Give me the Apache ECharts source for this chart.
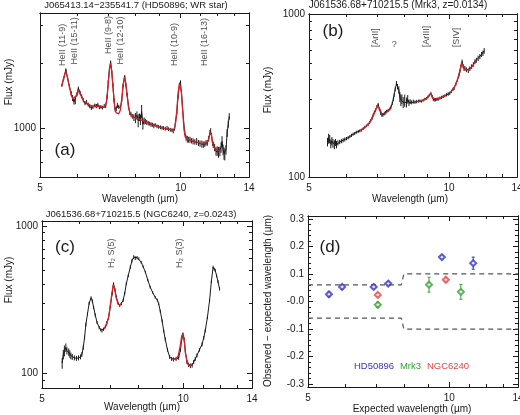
<!DOCTYPE html>
<html>
<head>
<meta charset="utf-8">
<script src="https://cdn.jsdelivr.net/npm/echarts@6/dist/echarts.min.js"></script>
<style>
  html, body { margin: 0; padding: 0; background: #fff; }
  #chart { width: 520px; height: 415px; }
</style>
</head>
<body>
<div id="chart"></div>
<script>
// (a) HD50896, WR star
var waveA = [5.57,5.62,5.68,5.73,5.78,5.83,5.87,5.91,5.95,6.00,6.04,6.09,6.14,6.19,6.24,6.29,6.34,6.39,6.44,6.49,
  6.55,6.60,6.65,6.70,6.75,6.80,6.86,6.91,6.96,7.00,7.04,7.08,7.12,7.16,7.20,7.24,7.28,7.32,7.37,7.43,
  7.48,7.53,7.59,7.63,7.68,7.73,7.78,7.83,7.88,7.94,8.00,8.06,8.11,8.16,8.20,8.25,8.30,8.35,8.40,8.46,
  8.52,8.58,8.64,8.70,8.76,8.82,8.90,8.97,9.05,9.12,9.19,9.27,9.35,9.42,9.50,9.58,9.64,9.70,9.75,9.81,
  9.87,9.94,9.99,10.04,10.09,10.14,10.20,10.27,10.33,10.40,10.47,10.55,10.63,10.72,10.82,10.92,11.00,11.10,11.18,11.26,
  11.33,11.40,11.48,11.55,11.59,11.64,11.70,11.74,11.82,11.90,11.97,12.05,12.13,12.20,12.26,12.32,12.38,12.43,12.50,12.57,
  12.64,12.70];
var fluxA = [1580,1700,1865,1700,1560,1450,1383,1330,1340,1440,1537,1470,1406,1350,1310,1330,1290,1270,1245,1260,
  1280,1270,1290,1255,1260,1250,1275,1266,1400,1648,1880,2029,1830,1591,1350,1222,1230,1280,1260,1245,
  1350,1580,1738,1600,1432,1280,1180,1159,1140,1125,1120,1150,1090,1130,1100,1200,1050,1085,1080,1070,
  1060,1055,1045,1043,1030,1040,1025,1020,1015,1010,1007,1000,1010,995,989,985,972,1000,1080,1180,
  1400,1600,1643,1450,1250,1100,960,906,895,890,890,880,875,870,874,860,855,850,845,850,
  860,860,900,960,980,930,860,845,820,787,790,780,787,820,874,800,770,760,800,956,
  1050,1139];
var errA = [25,25,28,25,30,40,45,40,45,28,25,25,28,30,28,25,28,30,25,28,
  25,28,25,25,25,25,25,22,25,28,28,28,28,25,25,25,25,35,28,25,
  25,28,28,25,25,25,25,30,28,40,60,50,75,45,60,85,60,40,30,28,
  25,22,25,22,25,20,20,20,20,20,20,20,20,20,20,20,20,20,22,22,
  25,25,25,25,22,22,25,25,32,28,28,25,28,25,32,28,28,32,28,25,
  25,25,25,25,25,25,25,28,32,35,40,45,40,45,50,45,50,45,40,40,
  40,40];
var fitWaveA = [5.57,5.62,5.67,5.72,5.78,5.83,5.88,5.93,5.98,6.03,6.08,6.14,6.20,6.30,6.40,6.50,6.60,6.70,6.80,6.88,
  6.94,7.00,7.04,7.08,7.12,7.17,7.22,7.27,7.32,7.37,7.43,7.48,7.53,7.58,7.63,7.68,7.74,7.80,7.90,8.00,
  8.20,8.40,8.60,8.80,9.00,9.20,9.40,9.60,9.70,9.76,9.82,9.88,9.94,9.99,10.04,10.10,10.16,10.22,10.30,10.50,
  10.80,11.10,11.35,11.45,11.52,11.58,11.64,11.70,11.78,11.90,12.00,12.13];
var fitFluxA = [1580,1720,1830,1730,1560,1440,1370,1360,1420,1500,1470,1400,1340,1310,1280,1265,1265,1260,1255,1260,
  1330,1620,1880,2000,1830,1520,1270,1185,1165,1170,1220,1370,1590,1730,1620,1420,1240,1170,1140,1120,
  1100,1075,1055,1035,1018,1005,995,985,1000,1080,1250,1480,1610,1610,1460,1200,1000,920,900,885,
  870,855,860,880,930,970,930,860,820,800,790,790];
var tagTextA = ['HeII (11-9)','HeII (15-11)','HeII (9-8)','HeII (12-10)','HeII (10-9)','HeII (16-13)'];
var tagWaveA = [5.59,5.94,7.04,7.47,9.72,11.3];
var tagFluxA = [1930,1960,2190,1960,1930,1930];

// (b) Mrk3
var waveB = [5.48,5.51,5.54,5.57,5.60,5.63,5.67,5.70,5.73,5.77,5.82,5.87,5.92,5.97,6.02,6.07,6.12,6.17,6.22,6.27,
  6.32,6.38,6.43,6.48,6.54,6.59,6.64,6.70,6.75,6.79,6.83,6.87,6.91,6.95,7.00,7.04,7.08,7.13,7.17,7.21,
  7.26,7.30,7.34,7.40,7.46,7.50,7.55,7.59,7.62,7.66,7.71,7.75,7.80,7.84,7.88,7.92,7.97,8.03,8.10,8.15,
  8.20,8.25,8.31,8.38,8.45,8.52,8.60,8.66,8.73,8.80,8.87,8.95,9.01,9.07,9.14,9.20,9.25,9.29,9.36,9.42,
  9.48,9.56,9.64,9.72,9.80,9.88,9.96,10.04,10.12,10.20,10.26,10.34,10.43,10.50,10.55,10.60,10.67,10.72,10.77,10.82,
  10.90,11.00,11.08,11.18,11.28,11.37,11.45,11.55,11.65,11.75,11.83,11.90];
var fluxB = [164,172,171,160,166,161,158,163,158,162,164,166,168,170,172,174,177,180,183,185,
  188,190,192,194,198,202,206,210,216,222,229,240,250,257,270,279,262,246,240,240,
  245,248,252,256,261,268,283,300,318,345,376,358,342,310,297,300,287,295,287,300,
  285,290,287,290,288,290,292,293,292,296,300,304,310,318,326,312,300,297,298,300,
  301,305,308,312,315,320,323,326,335,345,350,370,394,420,443,475,511,480,462,465,
  455,448,462,476,490,511,520,535,548,565,575,594];
var errB = [10,12,10,10,10,10,10,8,8,6,5,5,5,5,4,4,4,4,4,4,
  4,4,4,4,4,4,4,5,5,5,5,5,5,6,6,6,6,6,6,6,
  6,6,6,6,6,6,7,8,8,10,12,14,18,22,25,20,22,25,20,18,
  12,10,8,8,7,7,6,6,6,6,6,6,6,6,7,7,7,7,7,7,
  7,7,7,7,7,8,8,8,8,8,8,9,9,10,10,12,14,14,15,15,
  15,14,15,15,16,16,18,20,20,20,22,24];
var fitWaveB = [
  [6.43,6.55,6.65,6.75,6.85,6.95,7.01,7.05,7.10,7.16,7.22,7.30,7.40,7.50],
  [8.52,8.65,8.80,8.95,9.05,9.12,9.17,9.24,9.32,9.45,9.60,9.75,9.85],
  [10.10,10.20,10.30,10.40,10.50,10.58,10.64,10.69,10.75,10.82,10.92,11.05,11.20,11.35,11.45]];
var fitFluxB = [
  [192,198,206,216,232,255,275,278,262,245,240,246,255,264],
  [290,292,296,303,314,325,322,305,298,300,306,313,318],
  [333,345,362,388,425,465,500,505,470,455,452,455,475,500,515]];
var tagTextB = ['[ArII]','[ArIII]','[SIV]'];
var tagWaveB = [6.96,8.95,10.38];
var tagFluxB = [620,620,620];

// (c) NGC6240
var waveC = [5.52,5.55,5.58,5.62,5.65,5.70,5.73,5.76,5.80,5.86,5.92,5.98,6.04,6.08,6.12,6.16,6.20,6.25,6.30,6.36,
  6.40,6.44,6.49,6.55,6.62,6.67,6.71,6.76,6.82,6.87,6.93,6.99,7.05,7.10,7.15,7.20,7.26,7.32,7.38,7.44,
  7.50,7.56,7.63,7.71,7.77,7.84,7.90,7.97,8.04,8.13,8.21,8.30,8.40,8.50,8.60,8.71,8.80,8.86,8.93,9.01,
  9.08,9.15,9.25,9.35,9.44,9.53,9.65,9.77,9.86,9.93,9.98,10.04,10.10,10.18,10.26,10.35,10.44,10.52,10.60,10.69,
  10.82,10.96,11.05,11.13,11.25,11.37,11.47,11.57,11.63,11.69,11.77,11.85,11.94];
var fluxC = [118,135,143,150,143,140,136,132,130,128,127,128,130,135,150,176,215,254,300,326,
  310,281,250,222,205,198,195,200,208,222,240,285,347,406,370,329,300,289,298,312,
  350,406,460,526,580,615,605,610,600,569,530,487,430,385,355,329,315,297,265,228,
  195,171,145,130,126,125,126,128,145,175,185,170,140,120,115,113,114,120,126,133,
  145,158,175,195,240,312,420,526,510,500,460,420,375];
var errC = [10,10,12,10,8,8,8,7,6,5,5,5,5,5,5,5,6,6,7,8,
  8,7,6,5,5,5,5,5,5,5,6,7,8,9,8,8,7,7,7,7,
  8,9,10,14,16,18,18,16,14,12,10,9,8,8,7,7,7,6,6,5,
  5,5,4,4,4,4,4,4,4,5,5,5,4,4,4,4,4,4,4,4,
  4,5,5,5,6,7,9,12,12,12,11,10,10];
var fitWaveC = [
  [6.78,6.85,6.92,6.98,7.04,7.09,7.14,7.19,7.25,7.31,7.38],
  [9.45,9.55,9.65,9.75,9.85,9.92,9.98,10.04,10.10,10.18,10.26,10.35,10.45]];
var fitFluxC = [
  [200,212,235,280,345,400,375,330,300,290,298],
  [126,125,126,132,155,180,188,170,140,120,113,112,115]];
var tagTextC = ['H\u2082 S(5)','H\u2082 S(3)'];
var tagWaveC = [7.05,9.85];
var tagFluxC = [515,515];

// (d) line shifts
var hdWave = [5.54,5.91,6.90,7.41,9.64,11.24];
var hdShift = [0.026,0.053,0.053,0.065,0.161,0.139];
var hdErr = [0.009,0.009,0.005,0.005,0.005,0.022];
var mrkWave = [7.04,9.05,10.58];
var mrkShift = [-0.012,0.061,0.035];
var mrkErr = [0.01,0.027,0.027];
var ngcWave = [7.04,9.83];
var ngcShift = [0.024,0.079];
var ngcErr = [0.006,0.006];
var tolWave = [5,7.9,8.0,14];
var tolUpper = [0.06,0.06,0.1,0.1];
var tolLower = [-0.06,-0.06,-0.1,-0.1];

// ticks
var xLabels = [5.0001,10,13.999];
var xMajor = [10];
var xMinor = [6,7,8,9,11,12,13];
var yLabelsA = [1000];
var yMinorA = [700,800,900,2000,3000];
var yLabelsBC = [100.01,999.9];
var yMinorB = [200,300,400,500,600,700,800,900];
var yMinorC = [90,200,300,400,500,600,700,800,900];
var yLabelsD = [-0.3,-0.2,-0.1,0,0.1,0.2,0.3];
var yMinorD = [-0.28,-0.26,-0.24,-0.22,-0.18,-0.16,-0.14,-0.12,-0.08,-0.06,-0.04,-0.02,
  0.02,0.04,0.06,0.08,0.12,0.14,0.16,0.18,0.22,0.24,0.26,0.28];

var FONT = 'Liberation Sans';
var INK = '#1a1a1a';
var FIT = '#d42028';
var BLUE = '#3434c8';
var GREEN = '#36a036';
var RED = '#e24444';

function pairs(xs, ys) { return xs.map(function (x, i) { return [x, ys[i]]; }); }
function triples(xs, ys, es) { return xs.map(function (x, i) { return [x, ys[i], es[i]]; }); }
function roundFmt(v) { return String(Math.round(v)); }
function shiftFmt(v) { return Math.abs(v) < 1e-9 ? '-0.0' : v.toFixed(1); }

// four axes per side pair: main (labels + major ticks), minor, mirrored major, mirrored minor
function axesFor(dim, gi, type, min, max, labels, major, minor, fmt) {
  var sides = dim === 'x' ? ['bottom', 'top'] : ['left', 'right'];
  var out = [];
  sides.forEach(function (side, k) {
    [[major, 5], [minor, 3]].forEach(function (t, j) {
      var ax = {
        gridIndex: gi, type: type, min: min, max: max, position: side,
        axisLine: { show: true, onZero: false, lineStyle: { color: INK, width: 1 } },
        axisTick: { show: true, inside: true, length: t[1], customValues: t[0], lineStyle: { color: INK, width: 1 } },
        axisLabel: { show: false },
        splitLine: { show: false },
        minorTick: { show: false },
        axisPointer: { show: false }
      };
      if (type === 'log') ax.logBase = 10;
      if (k === 0 && j === 0) {
        ax.axisLabel = { show: true, customValues: labels, formatter: fmt, color: INK,
          fontFamily: FONT, fontSize: 10, margin: dim === 'x' ? 6 : 4 };
      }
      out.push(ax);
    });
  });
  return out;
}

function errorBars(gi, data, color, cap) {
  return {
    type: 'custom', xAxisIndex: 4 * gi, yAxisIndex: 4 * gi, data: data, silent: true, z: 2,
    encode: { x: 0, y: 1 }, clip: true,
    renderItem: function (params, api) {
      var x = api.value(0), y = api.value(1), e = api.value(2);
      var lo = api.coord([x, y - e]), hi = api.coord([x, y + e]);
      var kids = [{ type: 'line', shape: { x1: lo[0], y1: lo[1], x2: hi[0], y2: hi[1] },
        style: { stroke: color, lineWidth: 1 } }];
      if (cap) {
        kids.push({ type: 'line', shape: { x1: lo[0] - cap, y1: lo[1], x2: lo[0] + cap, y2: lo[1] }, style: { stroke: color, lineWidth: 1 } });
        kids.push({ type: 'line', shape: { x1: hi[0] - cap, y1: hi[1], x2: hi[0] + cap, y2: hi[1] }, style: { stroke: color, lineWidth: 1 } });
      }
      return { type: 'group', children: kids };
    }
  };
}

function lineOf(gi, data, color, width, z, dash) {
  return {
    type: 'line', xAxisIndex: 4 * gi, yAxisIndex: 4 * gi, data: data, symbol: 'none', silent: true, z: z,
    lineStyle: { color: color, width: width, type: dash || 'solid' }, clip: true
  };
}

function tags(gi, xs, ys, names, rotate) {
  return {
    type: 'scatter', xAxisIndex: 4 * gi, yAxisIndex: 4 * gi, symbolSize: 1, silent: true, z: 5,
    itemStyle: { color: 'rgba(0,0,0,0)' },
    data: xs.map(function (x, i) { return { name: names[i], value: [x, ys[i]] }; }),
    label: { show: true, formatter: '{b}', position: [0, 0], rotate: rotate ? 90 : 0,
      align: rotate ? 'left' : 'center', verticalAlign: 'middle', color: INK,
      fontFamily: FONT, fontSize: 9 }
  };
}

function points(gi, xs, ys, color) {
  return {
    type: 'scatter', xAxisIndex: 4 * gi, yAxisIndex: 4 * gi, data: pairs(xs, ys), silent: true, z: 4,
    symbol: 'emptyDiamond', symbolSize: 6, itemStyle: { color: color, borderColor: color, borderWidth: 1.2 }
  };
}

function text(x, y, s, size, opts) {
  opts = opts || {};
  return {
    type: 'text', x: x, y: y, rotation: opts.rot || 0, silent: true, z: 10,
    style: { text: s, fill: opts.color || INK, fontSize: size, fontFamily: opts.font || FONT,
      align: 'center', verticalAlign: 'middle' }
  };
}

var xAxes = [].concat(
  axesFor('x', 0, 'log', 5, 14, xLabels, xMajor, xMinor, roundFmt),
  axesFor('x', 1, 'log', 5, 14, xLabels, xMajor, xMinor, roundFmt),
  axesFor('x', 2, 'log', 5, 14, xLabels, xMajor, xMinor, roundFmt),
  axesFor('x', 3, 'log', 5, 14, xLabels, xMajor, xMinor, roundFmt)
);
var yAxes = [].concat(
  axesFor('y', 0, 'log', 600, 3400, yLabelsA, yLabelsA, yMinorA, roundFmt),
  axesFor('y', 1, 'log', 100, 1000, yLabelsBC, yLabelsBC, yMinorB, roundFmt),
  axesFor('y', 2, 'log', 80, 1080, yLabelsBC, yLabelsBC, yMinorC, roundFmt),
  axesFor('y', 3, 'value', -0.31, 0.31, yLabelsD, yLabelsD, yMinorD, shiftFmt)
);

var series = [
  errorBars(0, triples(waveA, fluxA, errA), INK, 0),
  lineOf(0, pairs(waveA, fluxA), INK, 1, 3),
  lineOf(0, pairs(fitWaveA, fitFluxA), FIT, 1.3, 4),
  tags(0, tagWaveA, tagFluxA, tagTextA, true),

  errorBars(1, triples(waveB, fluxB, errB), INK, 0),
  lineOf(1, pairs(waveB, fluxB), INK, 1, 3),
  tags(1, tagWaveB, tagFluxB, tagTextB, true),
  tags(1, [7.64], [648], ['?'], false),

  errorBars(2, triples(waveC, fluxC, errC), INK, 0),
  lineOf(2, pairs(waveC, fluxC), INK, 1, 3),
  tags(2, tagWaveC, tagFluxC, tagTextC, true),

  lineOf(3, pairs(tolWave, tolUpper), '#555', 1.2, 2, [5, 4]),
  lineOf(3, pairs(tolWave, tolLower), '#555', 1.2, 2, [5, 4]),
  errorBars(3, triples(hdWave, hdShift, hdErr), BLUE, 1.5),
  errorBars(3, triples(mrkWave, mrkShift, mrkErr), GREEN, 1.5),
  errorBars(3, triples(ngcWave, ngcShift, ngcErr), RED, 1.5),
  points(3, hdWave, hdShift, BLUE),
  points(3, mrkWave, mrkShift, GREEN),
  points(3, ngcWave, ngcShift, RED)
];
fitWaveB.forEach(function (w, i) { series.push(lineOf(1, pairs(w, fitFluxB[i]), FIT, 1.3, 4)); });
fitWaveC.forEach(function (w, i) { series.push(lineOf(2, pairs(w, fitFluxC[i]), FIT, 1.3, 4)); });

var ROT = Math.PI / 2;
var option = {
  backgroundColor: '#fff',
  animation: false,
  grid: [
    { left: 40, top: 13, width: 209, height: 164, outerBoundsMode: 'none' },
    { left: 309, top: 14, width: 208, height: 163, outerBoundsMode: 'none' },
    { left: 42, top: 221, width: 210, height: 167, outerBoundsMode: 'none' },
    { left: 308, top: 216, width: 210, height: 171, outerBoundsMode: 'none' }
  ],
  xAxis: xAxes,
  yAxis: yAxes,
  series: series,
  graphic: [
    text(136, 5, 'J065413.14\u2212235541.7 (HD50896; WR star)', 9.5),
    text(398, 5, 'J061536.68+710215.5 (Mrk3, z=0.0134)', 10),
    text(141, 214, 'J061536.68+710215.5 (NGC6240, z=0.0243)', 9.5),
    text(140, 199, 'Wavelength (\u00b5m)', 10),
    text(410, 199, 'Wavelength (\u00b5m)', 10),
    text(142, 407, 'Wavelength (\u00b5m)', 10),
    text(412, 409, 'Expected wavelength (\u00b5m)', 10),
    text(9, 82, 'Flux (mJy)', 10, { rot: ROT }),
    text(268, 90, 'Flux (mJy)', 10, { rot: ROT }),
    text(9, 280, 'Flux (mJy)', 10, { rot: ROT }),
    text(268, 301, 'Observed \u2212 expected wavelength (\u00b5m)', 10, { rot: ROT }),
    text(65, 150, '(a)', 17),
    text(333, 31, '(b)', 17),
    text(65, 247, '(c)', 17),
    text(330, 247, '(d)', 17),
    text(374, 366, 'HD50896', 9.5, { color: BLUE }),
    text(410.5, 366, 'Mrk3', 9.5, { color: GREEN }),
    text(448, 366, 'NGC6240', 9.5, { color: RED })
  ]
};

var chart = echarts.init(document.getElementById('chart'), null, { renderer: 'canvas' });
chart.setOption(option);
</script>
</body>
</html>
